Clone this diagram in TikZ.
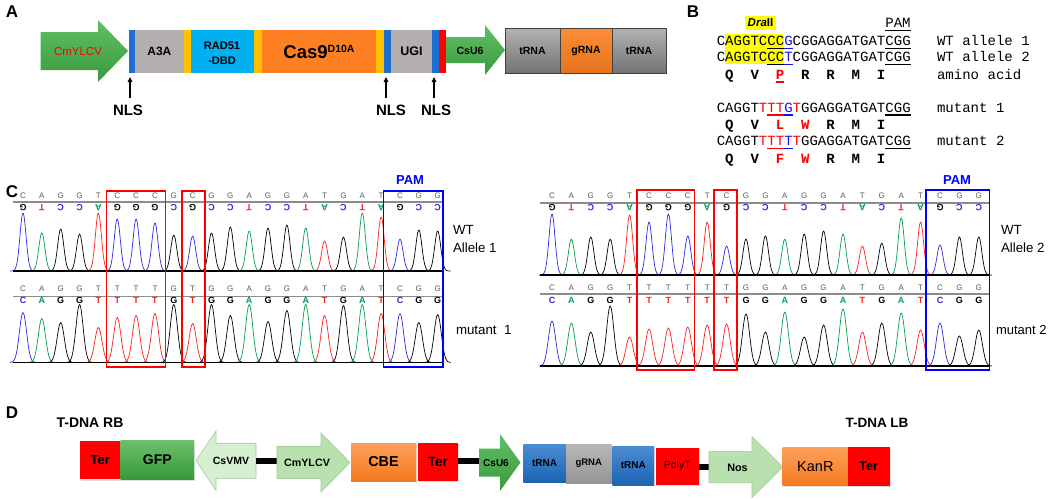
\documentclass[tikz,border=0pt]{standalone}
\usepackage{fontspec}
\setmainfont{Liberation Sans}
\newfontfamily\cour{Liberation Mono}
\usetikzlibrary{arrows.meta,shadows}
\definecolor{agreen}{HTML}{45B449}
\definecolor{nlsblue}{HTML}{1F6FD0}
\definecolor{dgray}{HTML}{B4AFAF}
\definecolor{dyellow}{HTML}{FFC000}
\definecolor{dcyan}{HTML}{00B0F0}
\definecolor{dorange}{HTML}{FF8022}
\definecolor{dred}{HTML}{FF0000}
\definecolor{colC}{HTML}{2B2BE6}
\definecolor{colA}{HTML}{00A04A}
\definecolor{colG}{HTML}{000000}
\definecolor{colT}{HTML}{FF2020}
\definecolor{lgreen}{HTML}{B9E1B0}
\definecolor{lgreenb}{HTML}{D6EFD0}
\definecolor{gfpgreen}{HTML}{3DAA3D}
\definecolor{tblue}{HTML}{1F6FC8}
\definecolor{ggray}{HTML}{A6A6A6}
\definecolor{seqblue}{HTML}{1515E0}
\definecolor{hly}{HTML}{FFFF00}
\newcommand\fs[1]{\fontsize{#1}{#1}\selectfont}
\newcommand\bx[7]{\node[blk,minimum width={(#4)-(#2)},minimum height={(#5)-(#3)},#6] (#1) at ({((#2)+(#4))/2},{((#3)+(#5))/2}) {#7};}
\newcommand\rarr[7]{\path[#7] ({#1},{#4-#5}) -- ({#2},{#4-#5}) -- ({#2},{#4-#6}) -- ({#3},{#4}) -- ({#2},{#4+#6}) -- ({#2},{#4+#5}) -- ({#1},{#4+#5}) -- cycle;}
\newcommand\und[4]{\draw[ul,#4] ({716.8+(#1-1)*8.43},#3) -- ({716.8+#2*8.43},#3);}
\newcommand\chrom[5]{\foreach \b/\h [count=\i] in {#5} {
    \pgfmathsetmacro\xx{#1+(\i-1)*#2}
    \draw[col\b, line width=0.7pt, line join=round] plot[domain=-13:13, samples=27, smooth] ({\xx+\x},{#3-\h*exp(-(\x*\x)/#4)});}}
\newcommand\lrow[6]{\foreach \b [count=\i] in {#6} {\node[#5] (#1\i) at ({#2+(\i-1)*#3},#4) {\b};}}
\begin{document}
\begin{tikzpicture}[x=1pt,y=-1pt,every node/.style={inner sep=0,outer sep=0}]
\tikzset{
 plab/.style={font=\fs{17}\bfseries},
 blk/.style={align=center},
 seq/.style={anchor=base west, font=\cour\fs{14.05}},
 aa/.style={anchor=base, font=\cour\fs{14.05}\bfseries},
 ul/.style={line width=1.4pt},
 tl/.style={font=\fs{8}, text=black!65},
 bl/.style={font=\fs{9}\bfseries},
 conn/.style={line width=6pt},
 nlsarr/.style={-{Triangle[length=5pt,width=4.5pt]}, line width=1.1pt},
 lab/.style={anchor=west, font=\fs{13.3}},
 dsh/.style={drop shadow={shadow xshift=1.2pt,shadow yshift=-1.2pt,opacity=0.25}},
 trbox/.style={draw=black!75, line width=0.8pt, top color=black!30, bottom color=black!55},
}
\useasboundingbox (0,0) rectangle (1052,498);
\fill[white] (0,0) rectangle (1052,498);

%% ---------------- Panel A
\node[plab] (lA) at (12,12) {A};
\rarr{40.5}{98}{128}{51}{19}{31}{top color=agreen!85!white, bottom color=agreen!85!black}
\node[font=\fs{11.5}, text=dred] (cmy) at (78,51.5) {CmYLCV};
\bx{nls1}{128.8}{30}{135.2}{73}{fill=nlsblue}{}
\bx{a3a}{135.2}{30}{183.5}{73}{fill=dgray, font=\fs{12}\bfseries}{A3A}
\bx{y1}{183.5}{30}{191}{73}{fill=dyellow}{}
\bx{rad}{191}{30}{253.5}{73}{fill=dcyan}{}
\node[font=\fs{11}\bfseries] (rad1) at (222,45.5) {RAD51};
\node[font=\fs{11}\bfseries] (rad2) at (222,60.5) {-DBD};
\bx{y2}{253.5}{30}{262}{73}{fill=dyellow}{}
\bx{cas}{262}{30}{376}{73}{fill=dorange, font=\fs{18.5}\bfseries}{Cas9\raisebox{6pt}{\fs{10.5}D10A}}
\bx{y3}{376}{30}{384}{73}{fill=dyellow}{}
\bx{nls2}{384}{30}{391}{73}{fill=nlsblue}{}
\bx{ugi}{391}{30}{432}{73}{fill=dgray, font=\fs{12.5}\bfseries}{UGI}
\bx{nls3}{432}{30}{439}{73}{fill=nlsblue}{}
\bx{redA}{439}{30}{446}{73}{fill=dred}{}
\rarr{446}{485}{505}{50}{13}{25}{top color=agreen!85!white, bottom color=agreen!85!black}
\node[font=\fs{10.5}\bfseries] (csu6a) at (470,50.5) {CsU6};
\bx{tr1}{505}{28}{560}{73}{trbox, font=\fs{10.5}\bfseries}{tRNA}
\bx{gr1}{560}{28}{612}{73}{draw=black!75, line width=0.8pt, top color=dorange!90!white, bottom color=dorange!90!black, font=\fs{10.5}\bfseries}{gRNA}
\bx{tr2}{612}{28}{666}{73}{trbox, font=\fs{10.5}\bfseries}{tRNA}
\node[font=\fs{15}\bfseries] (nlsl1) at (128,110) {NLS};
\node[font=\fs{15}\bfseries] (nlsl2) at (391,110) {NLS};
\node[font=\fs{15}\bfseries] (nlsl3) at (436,110) {NLS};
\coordinate (nb1) at (130,98); \coordinate (nt1) at (130,77);
\coordinate (nb2) at (386,98); \coordinate (nt2) at (386,77);
\coordinate (nb3) at (434,98); \coordinate (nt3) at (434,77);
\draw[nlsarr] (nb1) -- (nt1);
\draw[nlsarr] (nb2) -- (nt2);
\draw[nlsarr] (nb3) -- (nt3);

%% ---------------- Panel B
\node[plab] (lB) at (693,12) {B};
\fill[hly] (725.2,33.5) rectangle (784.2,63.6);
\node[fill=hly, minimum width=31, minimum height=14.5, font=\fs{11.5}\bfseries] (dra) at (760.5,23) {\itshape Dra\upshape II};
\node[anchor=base, font=\cour\fs{14.05}] (pamB) at (898,27.5) {PAM};
\draw[ul] (885.4,30.5) -- (911,30.5);
\node[seq] (wt1) at (716.8,45.5) {CAGGTCCC\textcolor{seqblue}{G}CGGAGGATGATCGG};
\node[seq] (wt2) at (716.8,61.5) {CAGGTCCC\textcolor{seqblue}{T}CGGAGGATGATCGG};
\node[seq] (mu1) at (716.8,112) {CAGGT\textcolor{red}{TTT}\textcolor{seqblue}{G}\textcolor{red}{T}GGAGGATGATCGG};
\node[seq] (mu2) at (716.8,145.5) {CAGGT\textcolor{red}{TTT}\textcolor{seqblue}{T}\textcolor{red}{T}GGAGGATGATCGG};
\und{7}{8}{48.3}{black}\und{9}{9}{48.3}{seqblue}\und{21}{23}{48.3}{black}
\und{7}{8}{64.3}{black}\und{9}{9}{64.3}{seqblue}\und{21}{23}{64.3}{black}
\und{8}{8}{82}{red}
\und{7}{8}{114.8}{red}\und{9}{9}{114.8}{seqblue}\und{21}{23}{114.8}{black}
\und{7}{8}{148.3}{red}\und{9}{9}{148.3}{seqblue}\und{21}{23}{148.3}{black}
\foreach \a/\c/\k in {Q/black/2,V/black/5,P/red/8,R/black/11,R/black/14,M/black/17,I/black/20}
  {\node[aa, text=\c] (aw\k) at ({716.8+(\k-0.5)*8.43},79) {\a};}
\foreach \a/\c/\k in {Q/black/2,V/black/5,L/red/8,W/red/11,R/black/14,M/black/17,I/black/20}
  {\node[aa, text=\c] (am\k) at ({716.8+(\k-0.5)*8.43},129.5) {\a};}
\foreach \a/\c/\k in {Q/black/2,V/black/5,F/red/8,W/red/11,R/black/14,M/black/17,I/black/20}
  {\node[aa, text=\c] (an\k) at ({716.8+(\k-0.5)*8.43},163) {\a};}
\node[seq] (bl1) at (937,45.5) {WT allele 1};
\node[seq] (bl2) at (937,61.5) {WT allele 2};
\node[seq] (bl3) at (937,79) {amino acid};
\node[seq] (bl4) at (937,112) {mutant 1};
\node[seq] (bl5) at (937,145.5) {mutant 2};

%% ---------------- Panel C
\node[plab] (lC) at (12,192) {C};
% left
\draw[black!45, line width=1.5pt] (13,202) -- (444,202);
\draw[black!45, line width=1.5pt] (13,296.6) -- (444,296.6);
\lrow{lt}{23}{18.85}{196}{tl}{C,A,G,G,T,C,C,C,G,C,G,G,A,G,G,A,T,G,A,T,C,G,G}
\lrow{lr}{23}{18.85}{207.5}{bl,rotate=180,text=col\b}{G,T,C,C,A,G,G,G,C,G,C,C,T,C,C,T,A,C,T,A,G,C,C}
\chrom{23}{18.85}{271}{18.5}{C/58,A/38,G/42,G/37,T/58,C/52,C/52,C/48,G/36,C/35,G/38,G/44,A/40,G/43,G/46,A/43,T/30,G/34,A/58,T/54,C/32,G/41,G/40}
\lrow{mt}{23}{18.85}{289}{tl}{C,A,G,G,T,T,T,T,G,T,G,G,A,G,G,A,T,G,A,T,C,G,G}
\lrow{mb}{23}{18.85}{300.5}{bl,text=col\b}{C,A,G,G,T,T,T,T,G,T,G,G,A,G,G,A,T,G,A,T,C,G,G}
\chrom{23}{18.85}{362.5}{26}{C/50,A/44,G/40,G/58,T/35,T/45,T/47,T/49,G/58,T/39,G/58,G/47,A/58,G/41,G/52,A/58,T/47,G/57,A/58,T/49,C/49,G/40,G/48}
\draw[black, line width=1.8pt] (13,271) -- (444,271);
\draw[black, line width=1.8pt] (13,362.5) -- (444,362.5);
\draw[red, line width=1.4pt] (106.5,191) rectangle (165.6,367);
\draw[red, line width=1.4pt] (181.8,191) rectangle (205,367);
\draw[blue, line width=1.4pt] (383.6,191) rectangle (442.8,367);
\node[text=blue, font=\fs{13}\bfseries] (pamL) at (410,180) {PAM};
\node[lab] (wtL) at (453,230) {WT};
\node[lab] (alL) at (453,248) {Allele 1};
\node[lab] (muL) at (456,330) {mutant~~1};
% right
\draw[black!45, line width=1.5pt] (540,203) -- (989,203);
\draw[black!45, line width=1.5pt] (540,294) -- (989,294);
\lrow{rt}{552}{19.4}{196}{tl}{C,A,G,G,T,C,C,C,T,C,G,G,A,G,G,A,T,G,A,T,C,G,G}
\lrow{rr}{552}{19.4}{208}{bl,rotate=180,text=col\b}{G,T,C,C,A,G,G,G,A,G,C,C,T,C,C,T,A,C,T,A,G,C,C}
\chrom{552}{19.4}{275}{18.5}{C/61,A/36,G/38,G/36,T/60,C/53,C/61,C/39,T/53,C/29,G/36,G/39,A/36,G/41,G/44,A/41,T/29,G/32,A/57,T/53,C/30,G/38,G/38}
\lrow{nt}{552}{19.4}{288}{tl}{C,A,G,G,T,T,T,T,T,T,G,G,A,G,G,A,T,G,A,T,C,G,G}
\lrow{nb}{552}{19.4}{300}{bl,text=col\b}{C,A,G,G,T,T,T,T,T,T,G,G,A,G,G,A,T,G,A,T,C,G,G}
\chrom{552}{19.4}{366}{26}{C/45,A/43,G/34,G/60,T/29,T/37,T/38,T/39,T/41,T/42,G/52,G/34,A/54,G/29,G/41,A/57,T/34,G/43,A/53,T/36,C/43,G/30,G/36}
\draw[black, line width=1.8pt] (540,275) -- (989,275);
\draw[black, line width=1.8pt] (540,366) -- (989,366);
\draw[red, line width=1.4pt] (637,190) rectangle (694.6,370);
\draw[red, line width=1.4pt] (714,190) rectangle (737,370);
\draw[blue, line width=1.4pt] (925.8,190) rectangle (989.5,370);
\node[text=blue, font=\fs{13}\bfseries] (pamR) at (957,180) {PAM};
\node[lab] (wtR) at (1001,230) {WT};
\node[lab] (alR) at (1001,248) {Allele 2};
\node[lab, font=\fs{13}] (muR) at (996,330) {mutant 2};

%% ---------------- Panel D
\node[plab] (lD) at (12,413) {D};
\node[font=\fs{14}\bfseries] (rb) at (90,423) {T-DNA RB};
\node[font=\fs{13.5}\bfseries] (lb) at (877,422.7) {T-DNA LB};
\bx{ter1}{80}{440.6}{120.7}{479.4}{fill=dred, dsh, font=\fs{13}\bfseries}{Ter}
\bx{gfp}{120.7}{440.6}{194}{479.4}{top color=gfpgreen!75!white, bottom color=gfpgreen!90!black, dsh, font=\fs{14}\bfseries}{GFP}
\rarr{256}{216}{196}{460.7}{17.5}{29.8}{fill=lgreenb, draw=lgreen!90!black, line width=0.6pt}
\node[font=\fs{10.5}\bfseries] (csvmv) at (231,461) {CsVMV};
\coordinate (k1a) at (256,461); \coordinate (k1b) at (277,461);
\draw[conn] (k1a) -- (k1b);
\rarr{277}{321}{350}{462.5}{16}{29.5}{fill=lgreen, draw=lgreen!90!black, line width=0.6pt}
\node[font=\fs{10.7}\bfseries] (cmyd) at (307,463) {CmYLCV};
\bx{cbe}{351}{443}{416}{481}{top color=dorange!75!white, bottom color=dorange!95!black, dsh, font=\fs{14.4}\bfseries}{CBE}
\bx{ter2}{417.5}{443}{458}{481}{fill=dred, dsh, font=\fs{13.5}\bfseries}{Ter}
\coordinate (k2a) at (458,461); \coordinate (k2b) at (479,461);
\draw[conn] (k2a) -- (k2b);
\rarr{479}{500}{520.5}{462.5}{14}{28.5}{top color=agreen!85!white, bottom color=agreen!85!black}
\node[font=\fs{10}\bfseries] (csu6d) at (496,463) {CsU6};
\bx{tr3}{523.4}{444}{565.8}{482}{top color=tblue!80!white, bottom color=tblue!90!black, dsh, font=\fs{10}\bfseries}{tRNA}
\bx{gr2}{566}{444}{611.5}{483}{top color=ggray!80!white, bottom color=ggray!90!black, dsh, font=\fs{9.5}\bfseries}{gRNA}
\bx{tr4}{612.5}{446}{654}{485}{top color=tblue!80!white, bottom color=tblue!90!black, dsh, font=\fs{10}\bfseries}{tRNA}
\bx{polyt}{655.6}{447.5}{699}{485}{fill=dred, dsh, font=\fs{10.5}}{PolyT}
\coordinate (k3a) at (699,467); \coordinate (k3b) at (709,467);
\draw[conn] (k3a) -- (k3b);
\rarr{709}{752}{782.7}{467}{15.7}{30.5}{fill=lgreen, draw=lgreen!90!black, line width=0.6pt}
\node[font=\fs{10.8}\bfseries] (nos) at (737.5,468) {Nos};
\bx{kan}{782.7}{447.5}{848}{485.4}{top color=dorange!75!white, bottom color=dorange!95!black, dsh, font=\fs{14.5}}{KanR}
\bx{ter3}{848}{446.8}{889.5}{485.8}{fill=dred, dsh, font=\fs{12.6}\bfseries}{Ter}
\end{tikzpicture}
\end{document}
